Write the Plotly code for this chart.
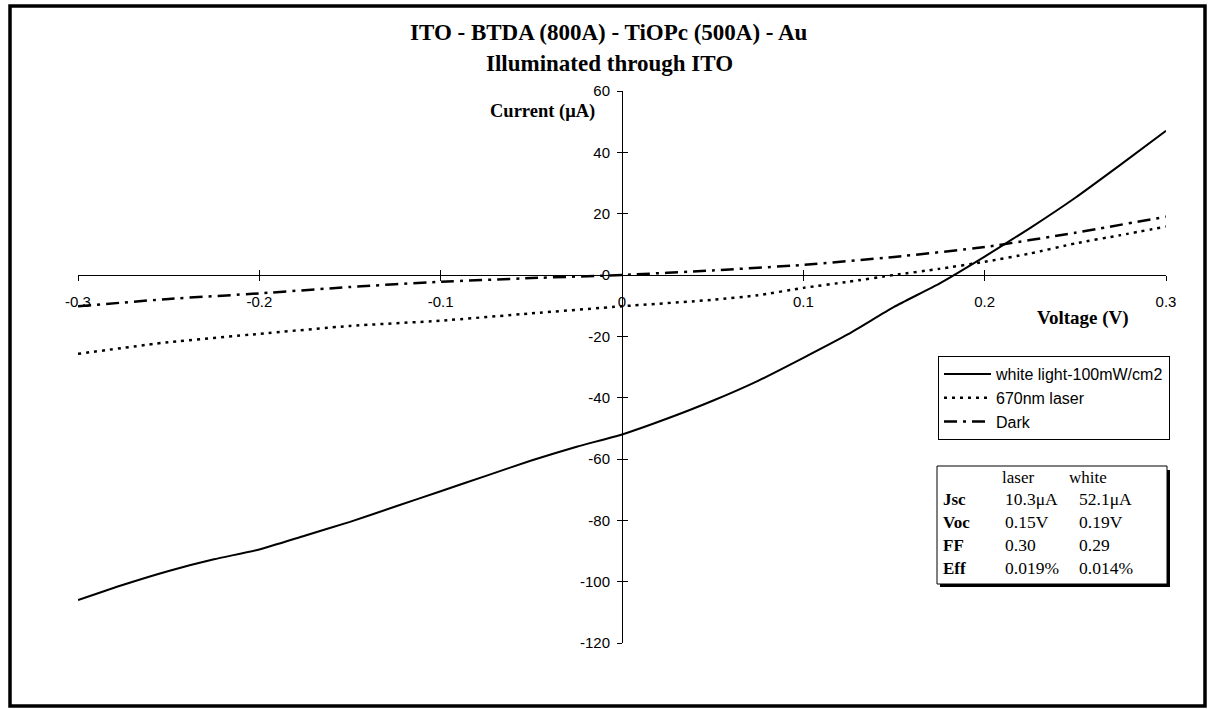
import plotly.graph_objects as go

# ---------------- data ----------------
v_white = [-0.30, -0.275, -0.25, -0.225, -0.20, -0.175, -0.15, -0.125, -0.10, -0.075, -0.05, -0.025,
           0.0, 0.025, 0.05, 0.075, 0.10, 0.125, 0.15, 0.175, 0.20, 0.225, 0.25, 0.275, 0.30]
i_white = [-106, -101, -96.5, -92.7, -89.5, -85, -80.5, -75.5, -70.5, -65.5, -60.5, -56,
           -52, -46.8, -41, -34.5, -27, -19.2, -10.4, -2.8, 6, 15.3, 25.2, 36, 47]

v_laser = [-0.30, -0.25, -0.20, -0.15, -0.10, -0.05, 0.0, 0.05, 0.075, 0.10, 0.125, 0.15,
           0.175, 0.20, 0.225, 0.25, 0.275, 0.30]
i_laser = [-25.7, -21.9, -19.2, -16.6, -14.9, -12.5, -10.2, -8.1, -6.6, -4.2, -2.2, 0.0,
           2.0, 4.3, 7.0, 10.3, 13.0, 15.8]

v_dark = [-0.30, -0.25, -0.20, -0.15, -0.10, -0.05, 0.0, 0.05, 0.10, 0.15, 0.20, 0.25, 0.30]
i_dark = [-10.2, -7.8, -6.0, -3.9, -2.2, -1.0, 0.0, 1.5, 3.3, 5.9, 9.1, 13.8, 19.0]

series_names = ["white light-100mW/cm2", "670nm laser", "Dark"]

x_ticks = [-0.3, -0.2, -0.1, 0.0, 0.1, 0.2, 0.3]
x_tick_labels = ["-0.3", "-0.2", "-0.1", "0", "0.1", "0.2", "0.3"]
y_ticks = [60, 40, 20, 0, -20, -40, -60, -80, -100, -120]
y_tick_labels = ["60", "40", "20", "0", "-20", "-40", "-60", "-80", "-100", "-120"]

title_lines = ["ITO - BTDA (800A) - TiOPc (500A) - Au", "Illuminated through ITO"]
y_title = "Current (\u03bcA)"
x_title = "Voltage (V)"

table_header = ["laser", "white"]
table_rows = ["Jsc", "Voc", "FF", "Eff"]
table_laser = ["10.3\u03bcA", "0.15V", "0.30", "0.019%"]
table_white = ["52.1\u03bcA", "0.19V", "0.29", "0.014%"]

# ---------------- layout geometry (pixels) ----------------
W, H = 1208, 709
L, R, T, B = 78, 1166, 91, 643


def px(xp):
    return (xp - L) / (R - L)


def py(yp):
    return (B - yp) / (B - T)


SANS = "Liberation Sans, Arial, sans-serif"
SERIF = "Liberation Serif, Times New Roman, serif"

fig = go.Figure()
fig.add_trace(go.Scatter(x=v_white, y=i_white, mode="lines", name=series_names[0],
                         line=dict(color="black", width=2, shape="spline", smoothing=0.5)))
fig.add_trace(go.Scatter(x=v_laser, y=i_laser, mode="lines", name=series_names[1],
                         line=dict(color="black", width=2.5, dash="3px,5px", shape="spline", smoothing=0.5)))
fig.add_trace(go.Scatter(x=v_dark, y=i_dark, mode="lines", name=series_names[2],
                         line=dict(color="black", width=2.5, dash="13px,6px,3px,6px", shape="spline", smoothing=0.5)))
# carrier for the overlay axes (inside half of the crossing ticks)
fig.add_trace(go.Scatter(x=[None], y=[None], xaxis="x2", yaxis="y2", showlegend=False, hoverinfo="skip"))

x_zero_pos = (0 - (-120)) / (60 - (-120))

common_ax = dict(showgrid=False, zeroline=False, color="black")
fig.update_layout(
    width=W, height=H,
    margin=dict(l=L, r=W - R, t=T, b=H - B),
    paper_bgcolor="white", plot_bgcolor="white",
    xaxis=dict(range=[-0.3, 0.3], anchor="free", position=x_zero_pos, showline=True,
               linecolor="black", linewidth=1, ticks="outside", ticklen=5, tickcolor="black",
               tickvals=x_ticks, ticktext=x_tick_labels, ticklabelstandoff=8,
               tickfont=dict(family=SANS, size=15, color="black"), **common_ax),
    xaxis2=dict(range=[-0.3, 0.3], overlaying="x", anchor="free", position=x_zero_pos,
                ticks="inside", ticklen=5, tickcolor="black", tickvals=x_ticks,
                showticklabels=False, showline=False, **common_ax),
    yaxis=dict(range=[-120, 60], anchor="free", position=0.5, showline=True,
               linecolor="black", linewidth=1, ticks="outside", ticklen=5, tickcolor="black",
               tickvals=y_ticks, ticktext=y_tick_labels, ticklabelstandoff=4,
               tickfont=dict(family=SANS, size=15, color="black"), **common_ax),
    yaxis2=dict(range=[-120, 60], overlaying="y", anchor="free", position=0.5,
                ticks="inside", ticklen=5, tickcolor="black", tickvals=y_ticks,
                showticklabels=False, showline=False, **common_ax),
    legend=dict(x=px(938), y=py(356), xanchor="left", yanchor="top",
                bordercolor="black", borderwidth=1, bgcolor="white",
                font=dict(family=SANS, size=16, color="black"),
                itemwidth=47, tracegroupgap=0),
    showlegend=True,
)

shapes = []
# outer frame
shapes.append(dict(type="rect", xref="paper", yref="paper", x0=px(10), x1=px(1205),
                   y0=py(706), y1=py(6), line=dict(color="black", width=3.5)))
# table box with shadow
shapes.append(dict(type="rect", xref="paper", yref="paper", x0=px(940), x1=px(1170),
                   y0=py(587), y1=py(470), fillcolor="black", line=dict(width=0)))
shapes.append(dict(type="rect", xref="paper", yref="paper", x0=px(937), x1=px(1167),
                   y0=py(584), y1=py(466), fillcolor="white", line=dict(color="black", width=1)))
fig.update_layout(shapes=shapes)

ann = []
ann.append(dict(text="<b>%s</b>" % title_lines[0], x=px(609), y=py(33), xref="paper", yref="paper",
                showarrow=False, xanchor="center", yanchor="middle",
                font=dict(family=SERIF, size=23, color="black")))
ann.append(dict(text="<b>%s</b>" % title_lines[1], x=px(609), y=py(63), xref="paper", yref="paper",
                showarrow=False, xanchor="center", yanchor="middle",
                font=dict(family=SERIF, size=23, color="black")))
ann.append(dict(text="<b>%s</b>" % y_title, x=px(597), y=py(112), xref="paper", yref="paper",
                showarrow=False, xanchor="right", yanchor="middle",
                font=dict(family=SERIF, size=18.5, color="black")))
ann.append(dict(text="<b>%s</b>" % x_title, x=px(1131), y=py(318), xref="paper", yref="paper",
                showarrow=False, xanchor="right", yanchor="middle",
                font=dict(family=SERIF, size=19, color="black")))

# table text
hdr_x = [1000, 1067]
for k, h in enumerate(table_header):
    ann.append(dict(text=h, x=px(hdr_x[k]), y=py(477), xref="paper", yref="paper",
                    showarrow=False, xanchor="left", yanchor="middle",
                    font=dict(family=SERIF, size=17, color="black")))
row_y = [499, 522, 545, 568]
for r, name in enumerate(table_rows):
    ann.append(dict(text="<b>%s</b>" % name, x=px(941), y=py(row_y[r]), xref="paper", yref="paper",
                    showarrow=False, xanchor="left", yanchor="middle",
                    font=dict(family=SERIF, size=17, color="black")))
    ann.append(dict(text=table_laser[r], x=px(1003), y=py(row_y[r]), xref="paper", yref="paper",
                    showarrow=False, xanchor="left", yanchor="middle",
                    font=dict(family=SERIF, size=17.5, color="black")))
    ann.append(dict(text=table_white[r], x=px(1077), y=py(row_y[r]), xref="paper", yref="paper",
                    showarrow=False, xanchor="left", yanchor="middle",
                    font=dict(family=SERIF, size=17.5, color="black")))
fig.update_layout(annotations=ann)

fig.write_html("out.html",
               config={"displayModeBar": False},
               post_script="document.body.style.margin='0px';document.body.style.overflow='hidden';")
